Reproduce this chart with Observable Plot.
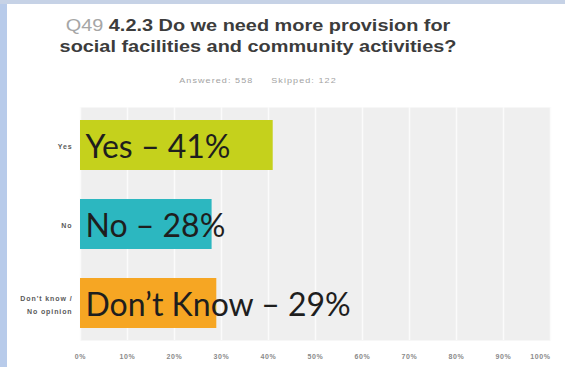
<!DOCTYPE html>
<html>
<head>
<meta charset="utf-8">
<script src="https://cdn.jsdelivr.net/npm/d3@7"></script>
<script src="https://cdn.jsdelivr.net/npm/@observablehq/plot@0.6"></script>
<style>
  html, body { margin: 0; padding: 0; background: #fff; }
  #slide {
    position: relative; width: 565px; height: 367px; overflow: hidden;
    background: #fff;
  }
  #slide::before { content: ""; position: absolute; left: 0; top: 0; width: 7px; height: 367px; background: #b8cbea; }
  #slide::after { content: ""; position: absolute; left: 0; top: 0; width: 565px; height: 4px; background: #c6d2e6; }
  #title {
    position: absolute; left: 0; top: 15px; width: 516px; text-align: center;
    font-family: "Liberation Sans", Arial, sans-serif; font-weight: bold;
    font-size: 17px; line-height: 21px; color: #3c3c3c;
    transform: scaleX(1.17); transform-origin: 258px 0;
  }
  #title .q { font-weight: normal; color: #a6a6a6; }
  #sub {
    position: absolute; left: 0; top: 76px; width: 516px; text-align: center;
    font-family: "Liberation Sans", Arial, sans-serif; font-size: 7.5px; color: #a3a3a3;
    letter-spacing: 0.9px; word-spacing: 0px; white-space: pre;
    transform: scaleX(1.2); transform-origin: 258px 0;
  }
  #chart { position: absolute; left: 0; top: 0; }
  #chart g[aria-label="y-axis tick label"] text { letter-spacing: 0.9px; }
  #chart g[aria-label="x-axis tick label"] text { letter-spacing: 0.6px; }
</style>
</head>
<body>
<div id="slide">
  <div id="title"><span class="q">Q49</span> 4.2.3 Do we need more provision for<br>social facilities and community activities?</div>
  <div id="sub">Answered: 558     Skipped: 122</div>
  <div id="chart"></div>
</div>
<script>
// Answer categories as shown on the y axis
const categories = ["Yes", "No", "Don't know /\nNo opinion"];
// Short names used inside each bar
const barNames = ["Yes", "No", "Don’t Know"];
// Share of respondents, percent
const shares = [41, 28, 29];
// Bar fills
const barColors = ["#c5d11c", "#2cb7c0", "#f6a623"];
// Percent ticks along the bottom
const xTicks = [0, 10, 20, 30, 40, 50, 60, 70, 80, 90, 100];

const rows = categories.map((c, i) => ({
  category: c,
  name: barNames[i],
  value: shares[i],
  label: `${barNames[i]} – ${shares[i]}%`
}));

const axisFont = "'Liberation Sans', Arial, sans-serif";

const chart = Plot.plot({
  width: 565,
  height: 367,
  marginTop: 107,
  marginBottom: 27,
  marginLeft: 80,
  marginRight: 15,
  style: { background: "transparent", overflow: "visible" },
  x: { domain: [0, 100], ticks: xTicks },
  y: { domain: categories, paddingInner: 0.37, paddingOuter: 0.15 },
  color: { domain: categories, range: barColors },
  marks: [
    Plot.frame({ fill: "#efefef", stroke: null }),
    Plot.gridX(xTicks, { stroke: "#fbfbfb", strokeOpacity: 1, strokeWidth: 1.5 }),
    Plot.barX(rows, { x: "value", y: "category", fill: "category" }),
    Plot.text(rows, {
      x: 0, y: "category", text: "label", textAnchor: "start", dx: 5, dy: 2,
      fill: "#1e1e1e", fontSize: 32, fontFamily: "Lato, 'Open Sans', sans-serif"
    }),
    Plot.axisY({
      tickSize: 0, tickPadding: 8, fontSize: 7, fontWeight: "bold",
      fill: "#5a5a5a", fontFamily: axisFont, label: null, lineHeight: 1.75
    }),
    Plot.axisX(xTicks.slice(0, -1), {
      tickSize: 0, tickPadding: 14, fontSize: 7, fontWeight: "bold",
      fill: "#8a8a8a", tickFormat: d => d + "%", label: null, fontFamily: axisFont
    }),
    Plot.axisX(xTicks.slice(-1), {
      tickSize: 0, tickPadding: 14, fontSize: 7, fontWeight: "bold", textAnchor: "end",
      fill: "#8a8a8a", tickFormat: d => d + "%", label: null, fontFamily: axisFont
    })
  ]
});
document.getElementById("chart").append(chart);
</script>
</body>
</html>
